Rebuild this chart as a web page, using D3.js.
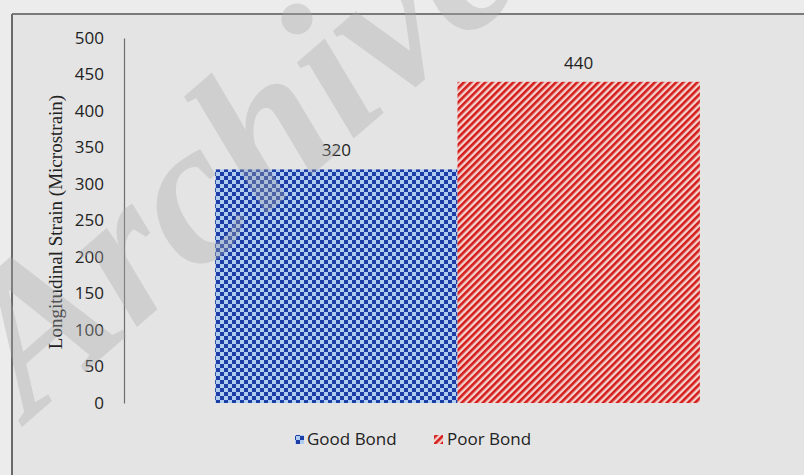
<!DOCTYPE html>
<html><head><meta charset="utf-8">
<script src="https://cdn.jsdelivr.net/npm/d3@7"></script>
<style>body{margin:0;background:#ececec}svg{display:block}</style>
</head><body>
<svg id="c" width="804" height="475"></svg>
<script>
const categories = ["Good Bond", "Poor Bond"];
const values = [320, 440];
const yTicks = [0, 50, 100, 150, 200, 250, 300, 350, 400, 450, 500];
const yLabel = "Longitudinal Strain (Microstrain)";
const watermark = "Archive";

const svg = d3.select("#c");
const W = 804, H = 475;
svg.append("rect").attr("width", W).attr("height", H).attr("fill", "#ececec");
svg.append("rect").attr("x", 12).attr("y", 14).attr("width", W).attr("height", H).attr("fill", "#e4e4e4");
svg.append("line").attr("x1", 12).attr("x2", W).attr("y1", 14).attr("y2", 14).attr("stroke", "#7a7a7a").attr("stroke-width", 2);
svg.append("line").attr("x1", 12).attr("x2", 12).attr("y1", 14).attr("y2", H).attr("stroke", "#6a6a6a").attr("stroke-width", 2);

const defs = svg.append("defs");
const chk = defs.append("pattern").attr("id", "chk").attr("patternUnits", "userSpaceOnUse").attr("width", 8).attr("height", 8);
chk.append("rect").attr("width", 8).attr("height", 8).attr("fill", "#b0cbf0");
chk.append("rect").attr("width", 4).attr("height", 4).attr("fill", "#1c3ca6");
chk.append("rect").attr("x", 4).attr("y", 4).attr("width", 4).attr("height", 4).attr("fill", "#1c3ca6");
const str = defs.append("pattern").attr("id", "str").attr("patternUnits", "userSpaceOnUse").attr("width", 5).attr("height", 5).attr("patternTransform", "rotate(45)");
str.append("rect").attr("width", 5).attr("height", 5).attr("fill", "#f4d2cc");
str.append("rect").attr("width", 2.6).attr("height", 5).attr("fill", "#d41c1c");
const fills = ["url(#chk)", "url(#str)"];

const y = d3.scaleLinear().domain([0, 500]).range([403, 38]);
const x = d3.scaleBand().domain(categories).range([124, 791]).paddingInner(0).paddingOuter(0.376);

svg.selectAll("rect.bar").data(values).enter().append("rect").attr("class", "bar")
  .attr("x", (d, i) => x(categories[i])).attr("width", x.bandwidth())
  .attr("y", d => y(d)).attr("height", d => y(0) - y(d))
  .attr("fill", (d, i) => fills[i]);

const ax = svg.append("g").attr("transform", "translate(124,0)")
  .call(d3.axisLeft(y).tickValues(yTicks).tickSize(0).tickPadding(20));
ax.select(".domain").attr("stroke", "#6e6e6e").attr("stroke-width", 1.2);
ax.selectAll("text").attr("font-family", "'Open Sans', sans-serif").attr("font-size", 17).attr("fill", "#222");

svg.append("text").attr("transform", "translate(62,222) rotate(-90)").attr("text-anchor", "middle")
  .attr("font-family", "'Liberation Serif', serif").attr("font-size", 19).attr("fill", "#222").text(yLabel);

svg.selectAll("text.val").data(values).enter().append("text").attr("class", "val")
  .attr("x", (d, i) => x(categories[i]) + x.bandwidth() / 2).attr("y", d => y(d) - 13)
  .attr("text-anchor", "middle").attr("font-family", "'Open Sans', sans-serif").attr("font-size", 17).attr("fill", "#222")
  .text(d => d);

// legend
const lg = svg.append("g");
const lx = [295, 434];
const tx = [307, 447];
categories.forEach((c, i) => {
  lg.append("rect").attr("x", lx[i]).attr("y", 435).attr("width", 9).attr("height", 9).attr("fill", fills[i]);
  lg.append("text").attr("x", tx[i]).attr("y", 445).attr("font-family", "'Open Sans', sans-serif").attr("font-size", 17).attr("fill", "#222").text(c);
});

// watermark
svg.append("text").attr("transform", "translate(30,420) rotate(-41)")
  .attr("font-family", "'Liberation Serif', serif").attr("font-style", "italic").attr("font-weight", "bold")
  .attr("font-size", 206).attr("fill", "#a8a8a8").attr("fill-opacity", 0.35).text(watermark);
</script>
</body></html>
